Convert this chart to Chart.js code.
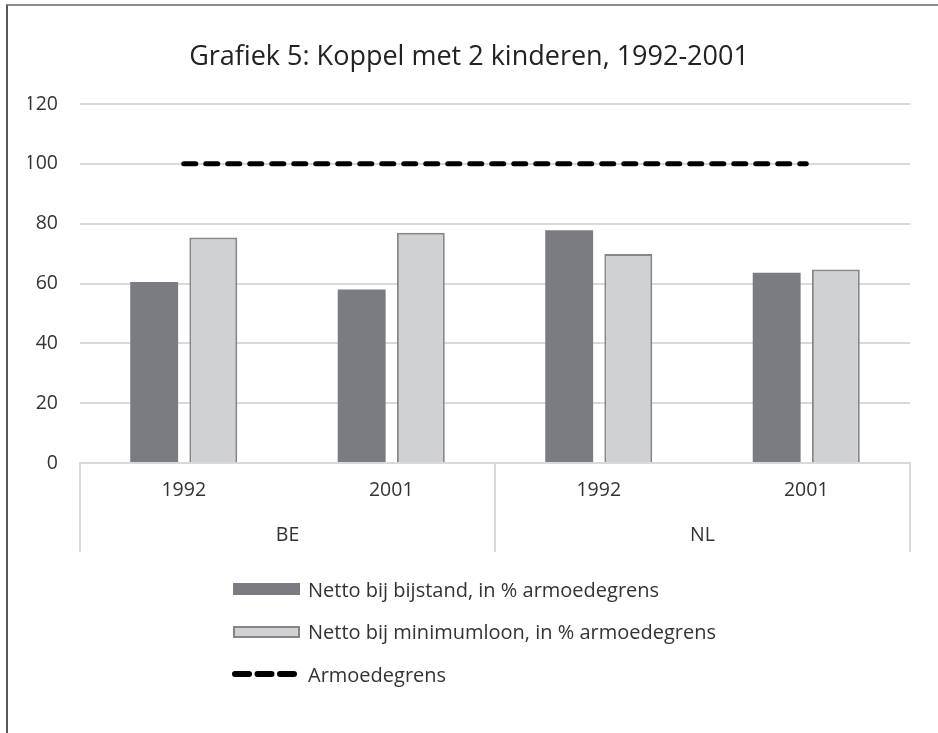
<!DOCTYPE html>
<html>
<head>
<meta charset="utf-8">
<script src="https://cdn.jsdelivr.net/npm/chart.js@4/dist/chart.umd.min.js"></script>
<style>
  html, body { margin: 0; padding: 0; background: #fff; }
  body { width: 938px; height: 733px; position: relative; overflow: hidden; font-family: 'Open Sans', sans-serif; }
  #frame { position: absolute; left: 6px; top: 4px; width: 1000px; height: 1000px;
           border-top: 2px solid #8c8c8c; border-left: 2px solid #595959; }
  #chart { position: absolute; left: 0; top: 0; }
  #legend { position: absolute; left: 232px; top: 568px; color: #333; font-size: 20px; }
  .legend-item { display: flex; align-items: center; height: 42.5px; white-space: nowrap; }
  .legend-item svg { margin-right: 8px; flex: none; }
</style>
</head>
<body>
<div id="frame"></div>
<canvas id="chart" width="938" height="733"></canvas>
<div id="legend"></div>
<script>
// gegevens
const years = ['1992', '2001', '1992', '2001'];
const countries = ['BE', 'NL'];
const bijstand = [60.5, 58.0, 77.8, 63.6];
const minimumloon = [75.4, 77.0, 69.9, 64.7];
const armoedegrens = [100, 100, 100, 100];
const yMin = 0;
const yMax = 120;
const yStep = 20;

const FONT = "'Open Sans', sans-serif";
const TEXT = '#333';
const GRID = '#d9d9d9';
const DARK = '#7b7c81';
const LIGHT = '#d0d1d3';
const EDGE = '#86868a';

function renderChart() {
  const ctx = document.getElementById('chart');
  return new Chart(ctx, {
    type: 'bar',
    data: {
      labels: years,
      datasets: [
        {
          label: 'Netto bij bijstand, in % armoedegrens',
          data: bijstand,
          backgroundColor: DARK,
          borderWidth: 0,
          categoryPercentage: 0.57,
          barPercentage: 0.81,
          order: 1
        },
        {
          label: 'Netto bij minimumloon, in % armoedegrens',
          data: minimumloon,
          backgroundColor: LIGHT,
          borderColor: EDGE,
          borderWidth: 2,
          categoryPercentage: 0.57,
          barPercentage: 0.81,
          order: 1
        },
        {
          type: 'line',
          label: 'Armoedegrens',
          data: armoedegrens,
          xAxisID: 'x',
          borderColor: '#000',
          borderWidth: 5,
          borderDash: [12, 10],
          borderCapStyle: 'round',
          pointRadius: 0,
          fill: false,
          order: 0
        }
      ]
    },
    options: {
      responsive: false,
      animation: false,
      // links en rechts gelijk zodat de titel in het midden staat
      layout: { padding: { left: 28, right: 28, top: 0, bottom: 181 } },
      plugins: {
        legend: { display: false },
        tooltip: { enabled: false },
        title: {
          display: true,
          text: 'Grafiek 5: Koppel met 2 kinderen, 1992-2001',
          color: '#222',
          font: { family: FONT, size: 27, weight: 'normal' },
          padding: { top: 41, bottom: 30.6 }
        }
      },
      scales: {
        y: {
          min: yMin,
          max: yMax,
          ticks: { stepSize: yStep, padding: 22, color: TEXT, font: { family: FONT, size: 19.5 } },
          grid: { color: GRID, lineWidth: 2, drawTicks: false },
          border: { display: false },
          afterFit: s => { s.width = 52; }
        },
        x: {
          weight: 0,
          offset: true,
          grid: {
            offset: true,
            drawOnChartArea: false,
            tickLength: 45,
            lineWidth: 2,
            // alleen scheidingslijnen tussen de landen
            color: c => (c.type === 'tick' && c.index % 2 === 1) ? 'rgba(0,0,0,0)' : GRID
          },
          border: { color: GRID, width: 2 },
          ticks: { padding: -29, color: TEXT, font: { family: FONT, size: 19.5 } },
          afterFit: s => { s.height = 45; }
        },
        x2: {
          type: 'category',
          labels: countries,
          position: 'bottom',
          weight: 1,
          offset: true,
          grid: { offset: true, drawOnChartArea: false, tickLength: 44, lineWidth: 2, color: GRID },
          border: { display: false },
          ticks: { padding: -28, color: TEXT, font: { family: FONT, size: 19.5 } },
          afterFit: s => { s.height = 44; }
        }
      }
    }
  });
}

function swatch(ds) {
  if (ds.type === 'line') {
    return `<svg width="68" height="14"><line x1="3" y1="7" x2="64" y2="7" stroke="${ds.borderColor}"
      stroke-width="6" stroke-linecap="round" stroke-dasharray="14 8.5"/></svg>`;
  }
  const bw = ds.borderWidth || 0;
  const stroke = bw ? `stroke="${ds.borderColor}" stroke-width="${bw}"` : '';
  return `<svg width="68" height="14"><rect x="${1 + bw / 2}" y="${1 + bw / 2}" width="${67 - bw}" height="${12 - bw}"
    fill="${ds.backgroundColor}" ${stroke}/></svg>`;
}

function renderLegend(chart) {
  const box = document.getElementById('legend');
  box.innerHTML = '';
  chart.data.datasets.forEach(ds => {
    const row = document.createElement('div');
    row.className = 'legend-item';
    row.innerHTML = `${swatch(ds)}<span>${ds.label}</span>`;
    box.appendChild(row);
  });
}

const chart = renderChart();
renderLegend(chart);
</script>
</body>
</html>
